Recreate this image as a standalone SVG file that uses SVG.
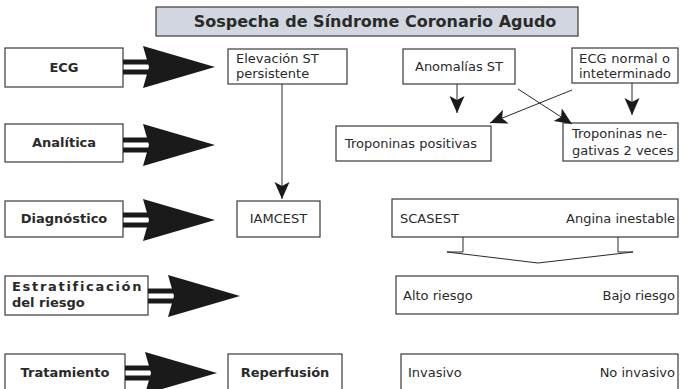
<svg xmlns="http://www.w3.org/2000/svg" width="686" height="389" viewBox="0 0 686 389">
<style>
.box{fill:#fff;stroke:#3a3a3a;stroke-width:1.2}
.t{font-family:"DejaVu Sans","Liberation Sans",sans-serif;font-size:13px;fill:#2a2a2a}
.b{font-family:"DejaVu Sans","Liberation Sans",sans-serif;font-size:13px;font-weight:bold;fill:#2a2a2a}
.ln{stroke:#2a2a2a;stroke-width:1;fill:none}
.big{fill:#1a1a1a}
</style>
<defs>
<marker id="ah" markerUnits="userSpaceOnUse" markerWidth="20" markerHeight="16" refX="17" refY="7.5" orient="auto">
<path d="M0,0 L17,7.5 L0,15 L4,7.5 z" fill="#1a1a1a"/>
</marker>
<g id="bigArrow">
<rect x="0" y="-7.5" width="28" height="5" class="big"/>
<rect x="0" y="2.5" width="28" height="5" class="big"/>
<path d="M20,-21 L26,0 L20,21 L92,0 z" class="big"/>
</g>
</defs>

<g id="title">
<rect x="156" y="7" width="422" height="29" fill="#d2d6de" stroke="#3a3a3a" stroke-width="1.2"/>
<text x="375" y="27" text-anchor="middle" class="b" style="font-size:16px">Sospecha de Síndrome Coronario Agudo</text>
</g>

<g id="ecg">
<rect x="5" y="48" width="118" height="39" class="box"/>
<text x="64" y="72" text-anchor="middle" class="b">ECG</text>
</g>
<g id="analitica">
<rect x="5" y="124" width="118" height="38" class="box"/>
<text x="64" y="147" text-anchor="middle" class="b">Analítica</text>
</g>
<g id="diagnostico">
<rect x="5" y="201" width="118" height="36" class="box"/>
<text x="64" y="223" text-anchor="middle" class="b">Diagnóstico</text>
</g>
<g id="estratificacion">
<rect x="5" y="276" width="143" height="39" class="box"/>
<text x="12" y="291" class="b" style="letter-spacing:1.7px">Estratificación</text>
<text x="12" y="307" class="b">del riesgo</text>
</g>
<g id="tratamiento">
<rect x="5" y="354" width="120" height="40" class="box"/>
<text x="65" y="377" text-anchor="middle" class="b">Tratamiento</text>
</g>

<g id="elevacion">
<rect x="228" y="49" width="119" height="35" class="box"/>
<text x="236" y="63" class="t">Elevación ST</text>
<text x="236" y="78" class="t">persistente</text>
</g>
<g id="iamcest">
<rect x="237" y="201" width="83" height="36" class="box"/>
<text x="278.5" y="223" text-anchor="middle" class="t">IAMCEST</text>
</g>
<g id="reperfusion">
<rect x="228" y="354" width="114" height="40" class="box"/>
<text x="285" y="377" text-anchor="middle" class="b">Reperfusión</text>
</g>

<g id="anomalias">
<rect x="403" y="49" width="112" height="35" class="box"/>
<text x="459" y="71" text-anchor="middle" class="t">Anomalías ST</text>
</g>
<g id="ecgnormal">
<rect x="572" y="48" width="106" height="35" class="box"/>
<text x="579" y="63" class="t" textLength="91" lengthAdjust="spacing">ECG normal o</text>
<text x="579" y="78" class="t">inteterminado</text>
</g>
<g id="tropos">
<rect x="336" y="126" width="155" height="35" class="box"/>
<text x="345" y="148" class="t">Troponinas positivas</text>
</g>
<g id="troponeg">
<rect x="563" y="123" width="115" height="38" class="box"/>
<text x="572" y="138" class="t">Troponinas ne-</text>
<text x="572" y="155" class="t">gativas 2 veces</text>
</g>

<g id="scasest">
<rect x="392" y="199" width="286" height="38" class="box"/>
<text x="400" y="223" class="t">SCASEST</text>
<text x="675" y="223" text-anchor="end" class="t">Angina inestable</text>
</g>
<g id="riesgo">
<rect x="396" y="276" width="282" height="38" class="box"/>
<text x="403" y="300" class="t">Alto riesgo</text>
<text x="675" y="300" text-anchor="end" class="t">Bajo riesgo</text>
</g>
<g id="invasivo">
<rect x="401" y="354" width="277" height="40" class="box"/>
<text x="408" y="377" class="t">Invasivo</text>
<text x="675" y="377" text-anchor="end" class="t">No invasivo</text>
</g>

<g id="connectors">
<use href="#bigArrow" transform="translate(123,67)"/>
<use href="#bigArrow" transform="translate(123,145)"/>
<use href="#bigArrow" transform="translate(123,220)"/>
<use href="#bigArrow" transform="translate(148,296)"/>
<use href="#bigArrow" transform="translate(125,373)"/>

<line x1="282" y1="84" x2="282" y2="199" class="ln" marker-end="url(#ah)"/>
<line x1="457" y1="84" x2="457" y2="113" class="ln" marker-end="url(#ah)"/>
<line x1="632" y1="83" x2="632" y2="115" class="ln" marker-end="url(#ah)"/>
<line x1="518" y1="89" x2="572" y2="124" class="ln" marker-end="url(#ah)"/>
<line x1="572" y1="90" x2="490" y2="123" class="ln" marker-end="url(#ah)"/>

<path d="M463,237 V252 H447 L538,263 L633,252 H618 V237" class="ln"/>
</g>
</svg>
